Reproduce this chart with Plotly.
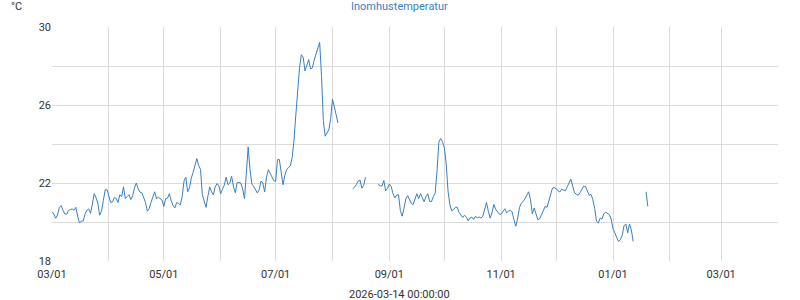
import pandas as pd
import plotly.graph_objects as go

# Segment start dates (daily readings)
seg_starts = ["2025-03-01", "2025-08-12", "2025-08-26", "2026-01-19"]

seg1 = [
    20.53, 20.41, 20.19, 20.36, 20.75, 20.84, 20.6, 20.41, 20.4, 20.59,
    20.64, 20.67, 20.6, 20.75, 20.3, 19.95, 20.05, 20.05, 20.4, 20.6,
    20.67, 20.45, 20.9, 21.45, 21.25, 20.95, 20.35, 20.55, 21.1, 21.65,
    21.66, 21.35, 21.0, 21.03, 21.25, 21.2, 21.0, 21.4, 21.3, 21.8,
    21.2, 21.3, 21.4, 21.15, 21.35, 21.75, 22.0, 21.7, 21.53, 21.5,
    21.25, 21.0, 20.55, 20.68, 21.0, 21.25, 21.55, 21.2, 21.27, 21.2,
    21.12, 20.8, 21.2, 21.22, 21.45, 21.1, 20.85, 20.72, 21.0, 20.95,
    20.88, 21.3, 22.1, 22.3, 21.55, 21.75, 22.26, 22.55, 22.86, 23.25,
    22.9,
    22.7, 21.4, 21.0, 20.75, 21.3, 21.8, 21.55, 21.4, 21.8, 21.97,
    21.85, 21.45, 21.68, 21.9, 22.3, 21.91, 22.0, 22.34, 21.8, 21.5,
    22.03, 22.0, 22.0, 21.69, 21.2, 22.5, 23.85, 22.68, 21.95, 21.82,
    21.65, 21.49, 21.65, 22.1, 22.0, 21.54, 22.3, 22.68, 22.5, 22.26,
    22.12, 22.09, 23.2, 23.2, 22.55, 21.91, 22.4, 22.68, 22.8, 22.88,
    23.3, 24.2, 25.5, 26.9, 27.9, 28.58, 28.45, 27.75, 28.05, 28.33,
    27.85, 27.9, 28.3, 28.58, 28.95, 29.21, 27.5, 25.2, 24.4, 24.55,
    24.73, 25.3, 26.3, 25.9, 25.5, 25.08,
]

seg2 = [21.7, 21.78, 21.92, 22.1, 22.15, 21.73, 21.88, 22.3]

seg3 = [
    21.95, 21.85, 21.85, 22.13, 21.6, 21.72, 21.95, 21.82, 21.45, 21.23,
    21.38, 21.4, 20.6, 20.3, 20.7, 21.2, 21.35, 21.1, 20.95, 20.9,
    21.15, 21.45, 21.2, 21.45, 21.25, 21.04, 21.3, 21.45, 21.05, 21.05,
    21.3, 21.46, 22.6, 24.1, 24.28, 24.12, 23.8, 23.0, 21.6, 20.9,
    20.58, 20.63, 20.75, 20.76, 20.5, 20.35, 20.23, 20.35, 20.24, 20.07,
    20.2, 20.25, 20.13, 20.3, 20.2, 20.26, 20.2, 20.3, 20.61, 21.0,
    20.55, 20.2, 20.47, 20.9, 20.65, 20.52, 20.4,
    20.4, 20.55, 20.68, 20.47, 20.57, 20.6, 20.51, 20.1, 19.78, 20.2,
    20.75, 20.96, 21.05, 21.2, 21.37, 21.55, 21.15, 20.42, 20.72, 20.4,
    20.12, 20.16, 20.38, 20.62, 20.8, 20.75, 21.1, 21.47, 21.75, 21.76,
    21.71, 21.6, 21.54, 21.68, 21.62, 21.6, 21.8, 22.05, 22.2, 21.85,
    21.5, 21.42, 21.37, 21.5, 21.7, 21.84, 21.82, 21.6, 21.37, 21.42,
    21.15, 20.7, 20.03, 19.95, 20.2, 20.15, 20.42, 20.5, 20.45, 20.38,
    20.15, 19.65, 19.44, 19.2, 19.0, 19.1, 19.3, 19.8, 19.9, 19.44,
    19.9, 19.6, 19.01,
]

seg4 = [21.55, 20.8]

title_text = "Inomhustemperatur"
unit_text = "°C"
x_title_text = "2026-03-14 00:00:00"
y_ticks = [18, 22, 26, 30]

x, y = [], []
for start, vals in zip(seg_starts, [seg1, seg2, seg3, seg4]):
    dates = pd.date_range(start, periods=len(vals), freq="D")
    x += list(dates) + [None]
    y += list(vals) + [None]

fig = go.Figure()
fig.add_trace(go.Scatter(x=x, y=y, mode="lines",
                         line=dict(color="#3a7fbd", width=1),
                         connectgaps=False, hoverinfo="skip"))

grid = "#dcdcdc"
tick_font = dict(family="Roboto, sans-serif", size=11, color="#333333")

fig.update_layout(
    width=800, height=300,
    margin=dict(l=52, r=22, t=27, b=39),
    paper_bgcolor="white", plot_bgcolor="white",
    showlegend=False,
    font=dict(family="Roboto, sans-serif", size=11, color="#333333"),
    xaxis=dict(
        type="date",
        range=["2025-03-01", "2026-04-01"],
        tick0="2025-03-01", dtick="M2", tickformat="%m/%d",
        showgrid=True, gridcolor=grid, gridwidth=1,
        minor=dict(dtick="M1", tick0="2025-03-01", showgrid=True, gridcolor=grid, gridwidth=1),
        zeroline=False, showline=False, ticks="",
        tickfont=tick_font, ticklabelstandoff=5,
    ),
    yaxis=dict(
        range=[18, 30],
        tickvals=y_ticks,
        showgrid=True, gridcolor=grid, gridwidth=1,
        minor=dict(dtick=2, tick0=18, showgrid=True, gridcolor=grid, gridwidth=1),
        zeroline=False, showline=False, ticks="",
        tickfont=tick_font,
    ),
    annotations=[
        dict(text=title_text, xref="paper", yref="paper", x=0.4793, y=1,
             xanchor="center", yanchor="bottom", yshift=12, showarrow=False,
             font=dict(family="Roboto, sans-serif", size=11, color="#3a7fbd")),
        dict(text=unit_text, xref="paper", yref="paper", x=-0.0592, y=1,
             xanchor="left", yanchor="bottom", yshift=12, showarrow=False,
             font=dict(family="Roboto, sans-serif", size=11, color="#333333")),
        dict(text=x_title_text, xref="paper", yref="paper", x=0.4793, y=0,
             xanchor="center", yanchor="top", yshift=-25, showarrow=False,
             font=dict(family="Roboto, sans-serif", size=11, color="#333333")),
    ],
)

fig.write_html("out.html")
